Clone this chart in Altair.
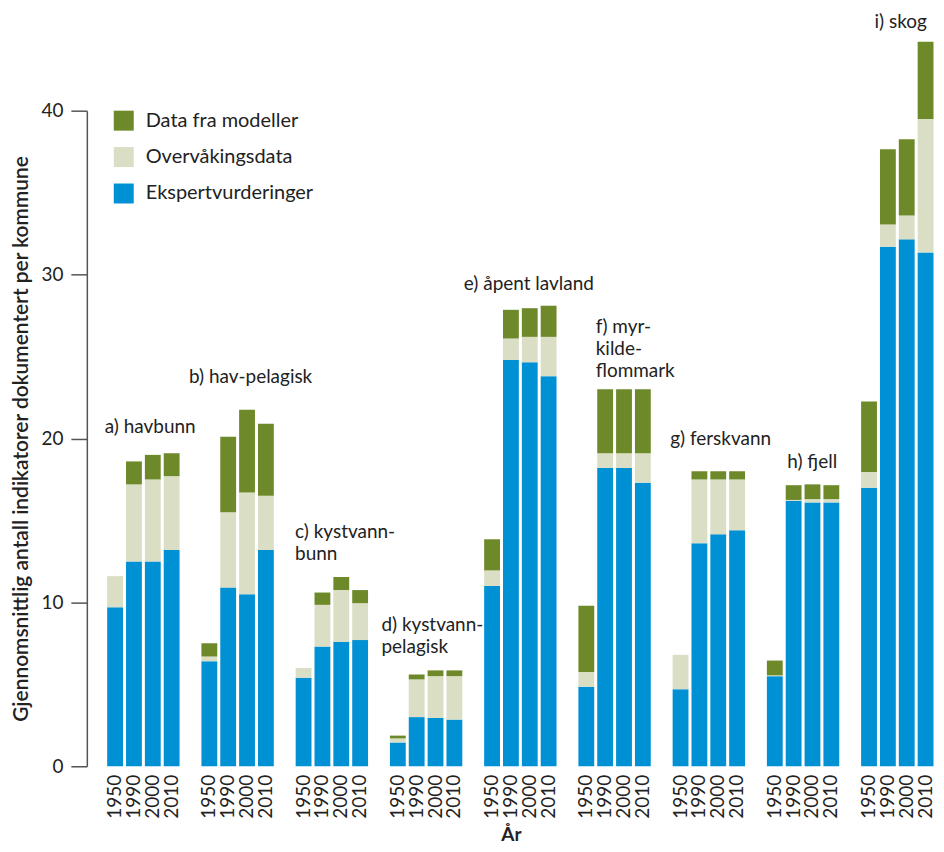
import altair as alt
import pandas as pd

groups = ["a", "b", "c", "d", "e", "f", "g", "h", "i"]
years = ["1950", "1990", "2000", "2010"]

series = ["Data fra modeller", "Overvåkingsdata", "Ekspertvurderinger"]
colors = ["#6e892a", "#d9dec4", "#0090d4"]

# segment values per group, years 1950, 1990, 2000, 2010
ekspert = {
    "a": [9.7, 12.5, 12.5, 13.2],
    "b": [6.4, 10.9, 10.5, 13.2],
    "c": [5.4, 7.3, 7.6, 7.7],
    "d": [1.45, 3.0, 2.95, 2.85],
    "e": [11.0, 24.8, 24.65, 23.8],
    "f": [4.85, 18.2, 18.2, 17.3],
    "g": [4.7, 13.6, 14.15, 14.4],
    "h": [5.5, 16.2, 16.1, 16.1],
    "i": [17.0, 31.7, 32.15, 31.35],
}
overvaking = {
    "a": [1.9, 4.7, 5.0, 4.5],
    "b": [0.3, 4.6, 6.2, 3.3],
    "c": [0.6, 2.55, 3.15, 2.25],
    "d": [0.25, 2.3, 2.55, 2.65],
    "e": [0.95, 1.3, 1.55, 2.4],
    "f": [0.9, 0.9, 0.9, 1.8],
    "g": [2.1, 3.9, 3.35, 3.1],
    "h": [0.05, 0.05, 0.2, 0.2],
    "i": [0.95, 1.35, 1.45, 8.15],
}
modeller = {
    "a": [0.0, 1.4, 1.5, 1.4],
    "b": [0.8, 4.6, 5.05, 4.4],
    "c": [0.0, 0.75, 0.8, 0.8],
    "d": [0.17, 0.3, 0.35, 0.35],
    "e": [1.9, 1.75, 1.75, 1.9],
    "f": [4.05, 3.9, 3.9, 3.9],
    "g": [0.0, 0.5, 0.5, 0.5],
    "h": [0.9, 0.9, 0.9, 0.85],
    "i": [4.3, 4.6, 4.65, 4.7],
}

group_labels = [
    "a) havbunn",
    "b) hav-pelagisk",
    "c) kystvann-\nbunn",
    "d) kystvann-\npelagisk",
    "e) åpent lavland",
    "f) myr-\nkilde-\nflommark",
    "g) ferskvann",
    "h) fjell",
    "i) skog",
]
# label anchor (in bar-slot units) and top of label (in y units)
label_x = [0.95, 5.42, 11.05, 15.63, 20.0, 27.0, 30.95, 37.16, 41.79]
label_y = [21.27, 24.29, 14.86, 9.18, 29.97, 27.37, 20.54, 19.09, 45.98]

# x domain with spacer slots between groups
domain = []
for gi, g in enumerate(groups):
    domain.append(f"_{gi}")
    for y in years:
        domain.append(f"{g} {y}")
n_slots = len(domain)

rows = []
for g in groups:
    for k, y in enumerate(years):
        for s, vals, order in [
            ("Ekspertvurderinger", ekspert, 0),
            ("Overvåkingsdata", overvaking, 1),
            ("Data fra modeller", modeller, 2),
        ]:
            rows.append({"key": f"{g} {y}", "serie": s, "verdi": vals[g][k], "ord": order})
df = pd.DataFrame(rows)

FONT = "Lato"
TXT = "#222222"
W, H = 850, 657
STEP = W / n_slots

yscale = alt.Scale(domain=[0, 40], nice=False, zero=True)
xscale = alt.Scale(domain=domain, paddingInner=0.16, paddingOuter=0.08)

x_axis = alt.Axis(
    title="År",
    labelExpr="substring(datum.value, 2)",
    labelAngle=270,
    labelFontSize=19,
    labelFont=FONT,
    labelColor=TXT,
    labelPadding=8,
    ticks=False,
    domain=False,
    grid=False,
    titleFontSize=19,
    titleFont=FONT,
    titleFontWeight="bold",
    titleColor=TXT,
    titlePadding=7,
)

y_axis = alt.Axis(
    title="Gjennomsnittlig antall indikatorer dokumentert per kommune",
    values=[0, 10, 20, 30, 40],
    grid=False,
    domainColor="#555555",
    domainWidth=1.5,
    tickColor="#555555",
    tickWidth=1.5,
    tickSize=16,
    labelFontSize=19,
    labelFont=FONT,
    labelColor=TXT,
    labelPadding=8,
    titleFontSize=21,
    titleFont=FONT,
    titleFontWeight=600,
    titleColor=TXT,
    titlePadding=9,
)

bars = alt.Chart(df).mark_bar().encode(
    x=alt.X("key:N", scale=xscale, sort=domain, axis=x_axis),
    y=alt.Y("verdi:Q", stack="zero", scale=yscale, axis=y_axis),
    color=alt.Color(
        "serie:N",
        scale=alt.Scale(domain=series, range=colors),
        legend=alt.Legend(
            title=None,
            orient="none",
            legendX=27,
            legendY=0,
            symbolType="square",
            symbolSize=400,
            symbolStrokeWidth=0,
            labelFontSize=20,
            labelFont=FONT,
            labelColor=TXT,
            labelOffset=12,
            labelLimit=400,
            rowPadding=16.5,
        ),
    ),
    order=alt.Order("ord:Q", sort="ascending"),
)

# one text layer per group label, anchored to the group's first bar
label_layers = []
for j, g in enumerate(groups):
    anchor_slot = domain.index(f"{g} {years[0]}")
    offset = STEP * (label_x[j] - anchor_slot - 0.5)
    ldf = pd.DataFrame({"label": [group_labels[j]], "key": [f"{g} {years[0]}"], "verdi": [label_y[j]]})
    label_layers.append(
        alt.Chart(ldf).mark_text(
            align="left", baseline="top", font=FONT, fontSize=19, color=TXT,
            lineBreak="\n", lineHeight=22, dx=offset,
        ).encode(
            x=alt.X("key:N", scale=xscale, sort=domain, axis=x_axis),
            y=alt.Y("verdi:Q", scale=yscale, axis=y_axis),
            text="label:N",
        )
    )

chart = (
    alt.layer(bars, *label_layers)
    .properties(width=W, height=H, padding={"left": 2, "top": 3, "right": 0, "bottom": 0})
    .configure(font=FONT)
    .configure_view(stroke="transparent", strokeWidth=0)
    .configure_axis(grid=False)
)

chart.save("out.html", embed_options={"renderer": "svg", "actions": False})
